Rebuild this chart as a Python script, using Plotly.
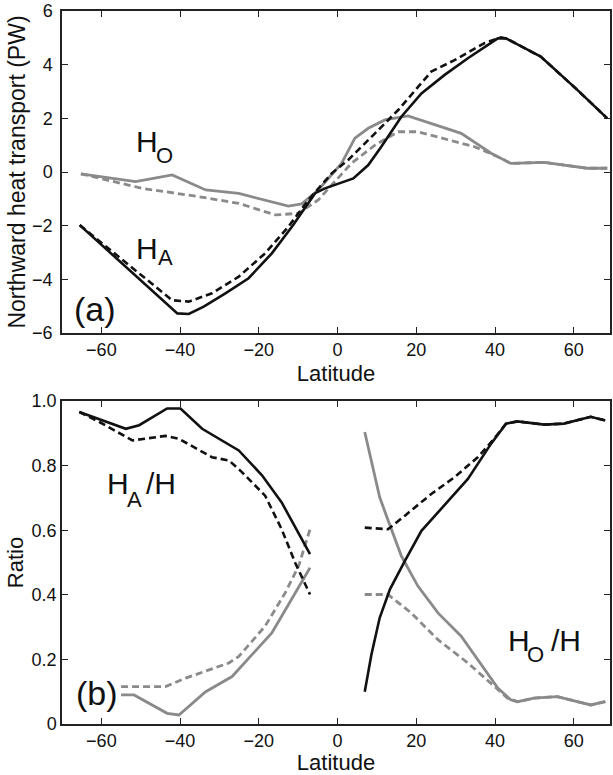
import plotly.graph_objects as go

# ---- Panel (a): northward heat transport (PW) ----
ha_lat = [-65.5, -40.7, -37.8, -34.0, -28.5, -22.6, -16.7, -11.6, -5.7, -3.2, 4.0, 7.8,
          11.1, 16.2, 21.3, 27.2, 33.1, 40.7, 42.8, 51.6, 60.9, 68.5]
ha_val = [-1.98, -5.27, -5.29, -5.02, -4.52, -3.96, -3.03, -2.04, -0.79, -0.61, -0.24, 0.26,
          0.94, 2.06, 2.93, 3.62, 4.24, 4.98, 4.98, 4.30, 3.06, 2.0]

ha_d_lat = [-65.5, -50.0, -42.0, -37.8, -31.9, -25.1, -18.4, -12.5, -7.4, -1.5, 2.7, 9.5,
            15.4, 23.8, 29.7, 37.3, 41.5, 42.8, 51.6, 60.9, 68.5]
ha_d_val = [-1.98, -3.85, -4.78, -4.83, -4.52, -3.90, -3.03, -2.04, -1.04, -0.05, 0.45, 1.44,
            2.31, 3.74, 4.17, 4.80, 5.02, 4.98, 4.30, 3.06, 2.0]

ho_lat = [-65.2, -51.3, -42.0, -33.5, -25.1, -12.5, -9.1, -4.9, 1.0, 4.4, 7.8, 12.0,
          17.9, 23.8, 31.4, 39.0, 44.0, 52.5, 63.4, 68.5]
ho_val = [-0.07, -0.36, -0.11, -0.67, -0.80, -1.27, -1.19, -0.67, 0.32, 1.26, 1.63, 1.94,
          2.09, 1.81, 1.44, 0.70, 0.32, 0.36, 0.14, 0.14]

ho_d_lat = [-65.2, -49.6, -35.2, -25.1, -15.8, -9.9, -4.9, -0.7, 3.5, 9.5, 15.4, 20.4,
            28.0, 34.8, 40.7, 44.0, 52.5, 63.4, 68.5]
ho_d_val = [-0.07, -0.61, -0.92, -1.17, -1.60, -1.54, -1.04, -0.36, 0.32, 1.00, 1.50, 1.50,
            1.19, 0.94, 0.57, 0.32, 0.36, 0.14, 0.14]

# ---- Panel (b): ratios (None separates the two hemispheres) ----
ra_lat = [-65.6, -53.8, -50.4, -43.3, -39.9, -34.4, -25.1, -19.2, -14.2, -7.0, None,
          6.9, 8.6, 10.7, 13.3, 17.1, 21.3, 26.3, 33.1, 39.0, 42.8, 45.7, 52.5, 57.5, 64.3, 68.0]
ra_val = [0.966, 0.914, 0.925, 0.977, 0.977, 0.914, 0.847, 0.770, 0.686, 0.526, None,
          0.100, 0.215, 0.329, 0.417, 0.505, 0.598, 0.666, 0.759, 0.868, 0.930, 0.937, 0.927,
          0.930, 0.951, 0.940]

ra_d_lat = [-65.6, -60.5, -52.1, -43.7, -40.3, -31.9, -27.6, -24.3, -18.4, -14.2, -10.8, -7.0,
            None, 6.9, 12.8, 17.1, 23.8, 29.7, 35.6, 39.4, 42.8, 45.7, 52.5, 57.5, 64.3, 68.0]
ra_d_val = [0.966, 0.935, 0.878, 0.892, 0.883, 0.826, 0.816, 0.780, 0.707, 0.603, 0.500, 0.401,
            None, 0.608, 0.603, 0.645, 0.712, 0.764, 0.826, 0.878, 0.930, 0.937, 0.927, 0.930,
            0.951, 0.940]

ro_lat = [-55.0, -51.7, -43.3, -40.3, -33.5, -26.8, -16.7, -11.6, -7.0, None,
          6.9, 8.2, 9.5, 10.7, 12.4, 16.2, 20.4, 25.5, 31.4, 35.6, 40.7, 44.0, 45.7, 49.9,
          55.8, 64.3, 68.0]
ro_val = [0.090, 0.090, 0.033, 0.028, 0.100, 0.147, 0.282, 0.386, 0.484, None,
          0.904, 0.837, 0.770, 0.702, 0.645, 0.520, 0.427, 0.344, 0.272, 0.199, 0.111, 0.075,
          0.069, 0.080, 0.085, 0.059, 0.069]

ro_d_lat = [-55.0, -43.7, -38.6, -27.6, -25.1, -18.4, -13.3, -9.9, -7.0, None,
            6.9, 12.8, 18.7, 25.5, 33.1, 39.0, 43.2, 45.7, 49.9, 55.8, 64.3, 68.0]
ro_d_val = [0.116, 0.116, 0.142, 0.189, 0.209, 0.303, 0.406, 0.489, 0.603, None,
            0.401, 0.401, 0.344, 0.261, 0.189, 0.127, 0.080, 0.069, 0.080, 0.085, 0.059, 0.069]

lat_ticks = [-60, -40, -20, 0, 20, 40, 60]
pw_ticks = [-6, -4, -2, 0, 2, 4, 6]
ratio_ticks = [0, 0.2, 0.4, 0.6, 0.8, 1.0]
ratio_labels = ["0", "0.2", "0.4", "0.6", "0.8", "1.0"]

BLACK = "#111111"
GREY = "#8a8a8a"
DASH = "7px,4px"
FONT = "Liberation Sans, Arial, Helvetica, sans-serif"

fig = go.Figure()

def line(x, y, color, dash, xa, ya, width):
    fig.add_trace(go.Scatter(x=x, y=y, mode="lines", xaxis=xa, yaxis=ya,
                             line=dict(color=color, width=width, dash=dash),
                             connectgaps=False, showlegend=False, hoverinfo="skip"))

# grey (ocean) first, black (atmosphere) on top
line(ho_d_lat, ho_d_val, GREY, DASH, "x", "y", 2.8)
line(ho_lat, ho_val, GREY, "solid", "x", "y", 2.8)
line(ha_d_lat, ha_d_val, BLACK, DASH, "x", "y", 2.6)
line(ha_lat, ha_val, BLACK, "solid", "x", "y", 2.6)

line(ro_d_lat, ro_d_val, GREY, DASH, "x2", "y2", 2.8)
line(ro_lat, ro_val, GREY, "solid", "x2", "y2", 2.8)
line(ra_d_lat, ra_d_val, BLACK, DASH, "x2", "y2", 2.6)
line(ra_lat, ra_val, BLACK, "solid", "x2", "y2", 2.6)

axis_common = dict(showgrid=False, zeroline=False, showline=True, linecolor="#222222",
                   linewidth=1.5, mirror="ticks", ticks="inside", ticklen=6,
                   tickwidth=1.3, tickcolor="#222222",
                   tickfont=dict(size=18, color="#111111", family=FONT))

fig.update_layout(
    width=613, height=775,
    margin=dict(l=62, r=1, t=11, b=51),
    paper_bgcolor="white", plot_bgcolor="white",
    font=dict(family=FONT, color="#111111"),
    xaxis=dict(domain=[0, 1], range=[-70, 69.2], anchor="y", tickvals=lat_ticks,
               title=dict(text="Latitude", font=dict(size=22), standoff=6), **axis_common),
    yaxis=dict(domain=[0.5484, 1.0], range=[-6, 6], anchor="x", tickvals=pw_ticks,
               ticklabelstandoff=4,
               title=dict(text="Northward heat transport (PW)", font=dict(size=23), standoff=0),
               **axis_common),
    xaxis2=dict(domain=[0, 1], range=[-70, 69.2], anchor="y2", tickvals=lat_ticks,
                title=dict(text="Latitude", font=dict(size=22), standoff=6), **axis_common),
    yaxis2=dict(domain=[0.0, 0.4530], range=[0, 1], anchor="x2", tickvals=ratio_ticks,
                ticktext=ratio_labels,
                title=dict(text="Ratio", font=dict(size=22), standoff=2), **axis_common),
)

def label(text, x, y, size, xa, ya):
    fig.add_annotation(text=text, x=x, y=y, xref=xa, yref=ya, showarrow=False,
                       xanchor="left", yanchor="middle",
                       font=dict(size=size, color="#111111", family=FONT))

# panel (a) labels
label("H", -51.7, 1.155, 30, "x", "y")
label("O", -46.6, 0.62, 22, "x", "y")
label("H", -51.7, -2.84, 30, "x", "y")
label("A", -46.1, -3.18, 22, "x", "y")
label("(a)", -67.4, -5.12, 34, "x", "y")

# panel (b) labels
label("H", -59.0, 0.746, 30, "x2", "y2")
label("A", -53.9, 0.696, 22, "x2", "y2")
label("/H", -49.2, 0.746, 30, "x2", "y2")
label("H", 42.7, 0.258, 30, "x2", "y2")
label("O", 47.7, 0.214, 22, "x2", "y2")
label("/H", 53.8, 0.258, 30, "x2", "y2")
label("(b)", -66.9, 0.096, 34, "x2", "y2")

fig.write_html("out.html")
